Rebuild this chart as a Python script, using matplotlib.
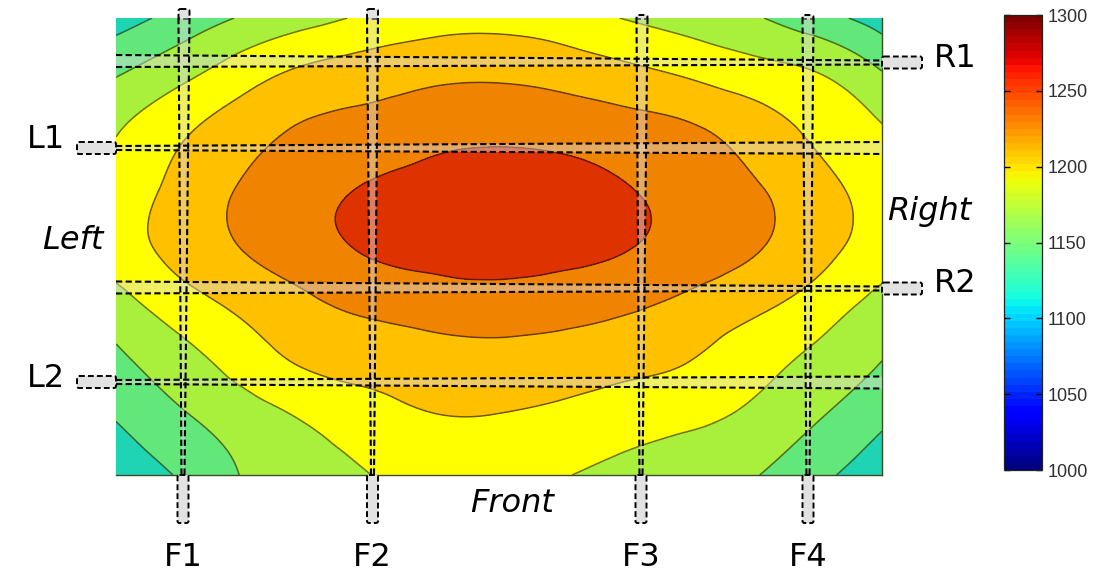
import numpy as np
import matplotlib
matplotlib.use('Agg')
import matplotlib.pyplot as plt
import matplotlib.tri as mtri
from matplotlib.patches import Polygon, FancyBboxPatch
from matplotlib.colors import Normalize
from matplotlib.cm import ScalarMappable

# --- data: readings on a 13 x 9 grid (columns left->right, rows top->bottom)
col_pos = np.arange(13)
row_pos = np.arange(9)
temps = np.array([
    [1131, 1147, 1162, 1173, 1184, 1191, 1193, 1189, 1179, 1171, 1162, 1147, 1131],
    [1159, 1175, 1192, 1205, 1211, 1216, 1217, 1213, 1206, 1198, 1189, 1181, 1162],
    [1179, 1197, 1212, 1223, 1228, 1234, 1236, 1234, 1229, 1223, 1211, 1196, 1182],
    [1188, 1206, 1222, 1233, 1242, 1247, 1249, 1247, 1241, 1232, 1222, 1207, 1191],
    [1191, 1207, 1221, 1232, 1243, 1247, 1248, 1246, 1241, 1232, 1222, 1207, 1191],
    [1172, 1191, 1205, 1217, 1225, 1230, 1232, 1229, 1224, 1215, 1205, 1191, 1173],
    [1156, 1172, 1189, 1203, 1208, 1212, 1213, 1211, 1206, 1200, 1188, 1175, 1160],
    [1141, 1157, 1170, 1182, 1192, 1199, 1199, 1195, 1189, 1184, 1175, 1161, 1144],
    [1126, 1142, 1161, 1170, 1180, 1185, 1186, 1181, 1174, 1167, 1161, 1145, 1128],
])

band_levels = [1100, 1140, 1160, 1180, 1200, 1220, 1240, 1300]
band_colors = ['#1fd4b2', '#62e87a', '#a8f03c', '#ffff00', '#ffc000', '#f08400', '#de3200']
cbar_ticks = [1000, 1050, 1100, 1150, 1200, 1250, 1300]

front_labels = ['F1', 'F2', 'F3', 'F4']
left_labels = ['L1', 'L2']
right_labels = ['R1', 'R2']
side_labels = ['Left', 'Right', 'Front']

W, H = 1107, 574
fig = plt.figure(figsize=(W / 100, H / 100), dpi=100)

# --- contour map
ax = fig.add_axes([116 / W, (H - 475) / H, 766 / W, 457 / H])
X, Y = np.meshgrid(col_pos, row_pos)
tri = mtri.Triangulation(X.ravel(), Y.ravel())
zz = temps.ravel().astype(float)
interp = mtri.CubicTriInterpolator(tri, zz, kind='min_E')
refiner = mtri.UniformTriRefiner(tri)
tri_f, z_f = refiner.refine_field(zz, triinterpolator=interp, subdiv=4)
ax.tricontourf(tri_f, z_f, levels=band_levels, colors=band_colors)
ax.tricontour(tri_f, z_f, levels=band_levels[1:-1], colors='k', linewidths=1.1, alpha=0.55)
ax.set_xlim(col_pos[0], col_pos[-1])
ax.set_ylim(row_pos[-1], row_pos[0])
ax.set_xticks([])
ax.set_yticks([])
ax.spines['top'].set_visible(False)
ax.spines['left'].set_visible(False)
for s in ['bottom', 'right']:
    ax.spines[s].set_color('#3d4a2a')
    ax.spines[s].set_linewidth(1.0)

# --- colorbar (jet, 64 steps)
cax = fig.add_axes([1004 / W, (H - 470) / H, 38 / W, 455 / H])
sm = ScalarMappable(norm=Normalize(1000, 1300), cmap=plt.get_cmap('jet', 64))
cb = fig.colorbar(sm, cax=cax, ticks=cbar_ticks)
cb.outline.set_edgecolor('#222222')
cb.outline.set_linewidth(0.9)
cax.tick_params(axis='y', direction='in', left=True, right=True, length=4, width=1,
                color='k', labelsize=13, labelcolor='#303030', pad=4)
for t in cax.get_yticklabels():
    t.set_family('Liberation Sans')

# --- overlay in pixel coordinates for the sensor strips and labels
ov = fig.add_axes([0, 0, 1, 1])
ov.set_xlim(0, W)
ov.set_ylim(H, 0)
ov.axis('off')

dash = (0, (3, 1.6))


def strip(p0, p1, w0, w1):
    p0, p1 = np.array(p0, float), np.array(p1, float)
    d = p1 - p0
    n = np.array([-d[1], d[0]]) / np.hypot(*d)
    pts = [p0 + n * w0 / 2, p1 + n * w1 / 2, p1 - n * w1 / 2, p0 - n * w0 / 2]
    ov.add_patch(Polygon(pts, closed=True, fc='#dcdcdc', alpha=0.45, ec='none'))
    for s in (1, -1):
        a, b = p0 + s * n * w0 / 2, p1 + s * n * w1 / 2
        ov.plot([a[0], b[0]], [a[1], b[1]], color='k', lw=1.5, ls=dash)


def stub(x, y, w, h):
    ov.add_patch(FancyBboxPatch((x, y), w, h, boxstyle='round,pad=0,rounding_size=2',
                                fc='#e2e2e2', ec='k', lw=1.4, ls=dash))


# front strips: (top x, bottom x, top stub start)
front_geo = [(184, 183, 9), (372.5, 372.5, 9), (642, 641, 15), (808, 808, 15)]
for lab, (xt, xb, ys) in zip(front_labels, front_geo):
    stub(xt - 5.5, ys, 11, 19 - ys)
    strip((xt, 18), (xb, 475), 11, 3)
    stub(xb - 5.5, 475, 11, 48)
    ov.text(xb, 566, lab, ha='center', va='baseline', fontsize=23, family='DejaVu Sans')

# left strips: narrow at the left edge, wide at the right edge
left_geo = [(148, 148), (382, 382.5)]
left_base = [148, 387]
for lab, (yl, yr), yb in zip(left_labels, left_geo, left_base):
    strip((116, yl), (882, yr), 4, 12)
    stub(77, yl - 6, 39, 12)
    ov.text(46, yb, lab, ha='center', va='baseline', fontsize=23, family='DejaVu Sans')

# right strips: wide at the left edge, narrow at the right edge
right_geo = [(61, 62.5), (287.5, 288.5)]
right_base = [67, 292]
for lab, (yl, yr), yb in zip(right_labels, right_geo, right_base):
    strip((116, yl), (882, yr), 12, 4)
    stub(882, yr - 6, 40, 12)
    ov.text(955, yb, lab, ha='center', va='baseline', fontsize=23, family='DejaVu Sans')

side_pos = [(73, 249), (929, 220), (512, 512)]
for lab, (x, y) in zip(side_labels, side_pos):
    ov.text(x, y, lab, ha='center', va='baseline', fontsize=23, style='italic',
            family='DejaVu Sans')

fig.savefig('out.png', dpi=100)
